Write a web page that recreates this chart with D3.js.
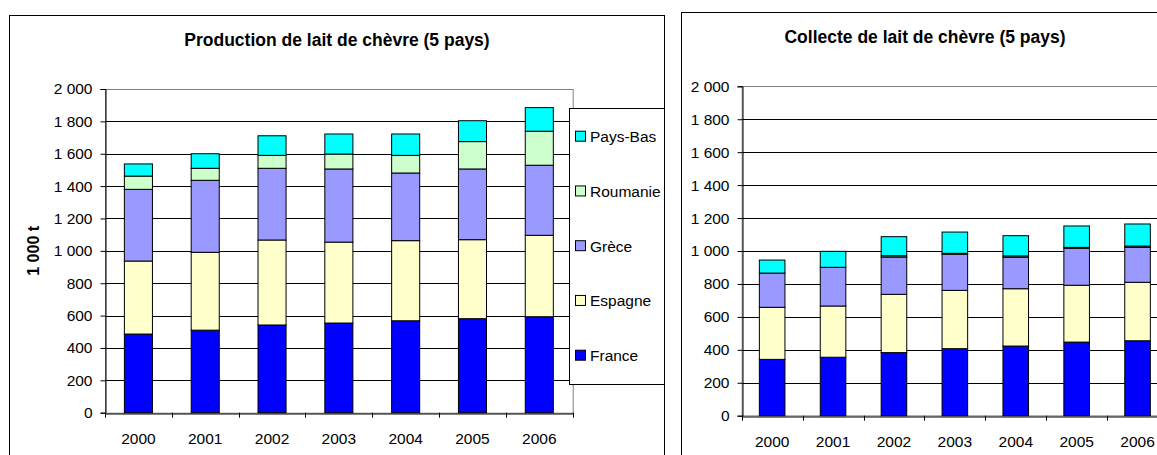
<!DOCTYPE html>
<html>
<head>
<meta charset="utf-8">
<script src="https://cdn.jsdelivr.net/npm/d3@7"></script>
<style>
  body { margin: 0; background: #fff; }
  svg { display: block; font-family: "Liberation Sans", Arial, sans-serif; }
</style>
</head>
<body>
<div id="vis"></div>
<script>
// data (1 000 t)
const years = ["2000", "2001", "2002", "2003", "2004", "2005", "2006"];
const countries = ["France", "Espagne", "Grèce", "Roumanie", "Pays-Bas"];
const colors = ["#0000ff", "#ffffcc", "#9999ff", "#ccffcc", "#00ffff"];

// production
const prodFrance   = [486, 510, 542, 554, 568, 581, 593];
const prodEspagne  = [451, 481, 525, 500, 495, 488, 503];
const prodGrece    = [443, 445, 443, 452, 418, 437, 433];
const prodRoumanie = [82, 74, 80, 92, 109, 169, 210];
const prodPaysBas  = [75, 90, 121, 124, 132, 129, 146];

// collecte
const collFrance   = [342, 355, 383, 407, 423, 447, 455];
const collEspagne  = [316, 311, 354, 354, 348, 345, 355];
const collGrece    = [208, 235, 226, 219, 191, 224, 212];
const collRoumanie = [0, 0, 8, 6, 8, 6, 8];
const collPaysBas  = [79, 97, 116, 129, 123, 130, 134];

const yTicks = [0, 200, 400, 600, 800, 1000, 1200, 1400, 1600, 1800, 2000];

const fmt = d3.formatLocale({ decimal: ",", thousands: "\u00a0", grouping: [3], currency: ["", " €"] }).format(",d");

let svg = d3.select("#vis")
  .append("svg")
  .attr("width", 1157)
  .attr("height", 455);

function rows(series) {
  return years.map((yr, i) => {
    let r = { year: yr };
    countries.forEach((c, k) => r[c] = series[k][i]);
    return r;
  });
}

function drawChart(g, cfg) {
  // outer frame (runs off the picture at the bottom / right)
  g.append("rect")
    .attr("x", cfg.frame[0] + 0.5).attr("y", cfg.frame[1] + 0.5)
    .attr("width", cfg.frame[2]).attr("height", cfg.frame[3])
    .attr("fill", "#fff").attr("stroke", "#000").attr("stroke-width", 1);

  g.append("text")
    .attr("x", cfg.titleX).attr("y", cfg.titleY)
    .attr("text-anchor", "middle")
    .style("font-size", "17.5px").style("font-weight", "bold")
    .text(cfg.title);

  let x = d3.scaleBand().domain(years)
    .range([cfg.left, cfg.right])
    .paddingInner(0.58).paddingOuter(0.29);
  let y = d3.scaleLinear().domain([0, 2000]).range([cfg.bottom, cfg.top]);

  // gridlines
  g.append("g")
    .selectAll("line")
    .data(yTicks.filter(d => d > 0 && d < 2000))
    .join("line")
    .attr("x1", cfg.left).attr("x2", cfg.right)
    .attr("y1", d => Math.round(y(d)) + 0.5).attr("y2", d => Math.round(y(d)) + 0.5)
    .attr("stroke", "#000");

  // plot area border
  g.append("rect")
    .attr("x", cfg.left + 0.5).attr("y", Math.round(cfg.top) + 0.5)
    .attr("width", cfg.right - cfg.left).attr("height", cfg.bottom - cfg.top)
    .attr("fill", "none").attr("stroke", "#808080");

  // stacked bars
  let stack = d3.stack().keys(countries)(rows(cfg.series));
  g.append("g")
    .selectAll("g")
    .data(stack)
    .join("g")
    .attr("fill", (d, i) => colors[i])
    .selectAll("rect")
    .data(d => d)
    .join("rect")
    .attr("x", d => x(d.data.year))
    .attr("width", x.bandwidth())
    .attr("y", d => y(d[1]))
    .attr("height", d => y(d[0]) - y(d[1]))
    .attr("stroke", "#000").attr("stroke-width", 1);

  // y axis
  let ya = g.append("g")
    .attr("transform", `translate(${Math.round(cfg.left) + 0.5},0)`)
    .call(d3.axisLeft(y).tickValues(yTicks).tickSize(5).tickPadding(8).tickFormat(fmt));
  ya.select(".domain").attr("stroke", "#000");
  ya.selectAll("text").style("font-size", "15.5px").attr("fill", "#000");

  // x axis: labels centred on bars, tick marks between categories
  let xa = g.append("g")
    .attr("transform", `translate(0,${Math.round(cfg.bottom) + 0.5})`)
    .call(d3.axisBottom(x).tickSize(0).tickPadding(19));
  xa.select(".domain").attr("stroke", "#000");
  xa.selectAll("text").style("font-size", "15.5px").attr("fill", "#000");
  let step = x.step();
  g.append("g")
    .selectAll("line")
    .data(d3.range(years.length + 1))
    .join("line")
    .attr("x1", i => Math.round(cfg.left + i * step) + 0.5)
    .attr("x2", i => Math.round(cfg.left + i * step) + 0.5)
    .attr("y1", cfg.bottom).attr("y2", cfg.bottom + 5)
    .attr("stroke", "#000");

  if (cfg.yLabel) {
    g.append("text")
      .attr("transform", `translate(${cfg.yLabelX},${(cfg.top + cfg.bottom) / 2}) rotate(-90)`)
      .attr("text-anchor", "middle")
      .attr("dy", "0.35em")
      .style("font-size", "16px").style("font-weight", "bold")
      .text(cfg.yLabel);
  }
}

drawChart(svg.append("g"), {
  frame: [9, 15, 655, 460],
  title: "Production de lait de chèvre (5 pays)",
  titleX: 337, titleY: 46,
  left: 105, right: 572.7, top: 89, bottom: 412.7,
  series: [prodFrance, prodEspagne, prodGrece, prodRoumanie, prodPaysBas],
  yLabel: "1 000 t", yLabelX: 33
});

drawChart(svg.append("g"), {
  frame: [681, 12, 500, 460],
  title: "Collecte de lait de chèvre (5 pays)",
  titleX: 925, titleY: 43,
  left: 741.7, right: 1168, top: 86.3, bottom: 415.7,
  series: [collFrance, collEspagne, collGrece, collRoumanie, collPaysBas]
});

// legend of the left chart
let legend = svg.append("g");
legend.append("rect")
  .attr("x", 569.5).attr("y", 108.5)
  .attr("width", 95).attr("height", 276)
  .attr("fill", "#fff").attr("stroke", "#000");
let legendOrder = countries.slice().reverse();
let ly = d3.scalePoint().domain(legendOrder).range([136.7, 355.7]);
let item = legend.selectAll("g.item")
  .data(legendOrder)
  .join("g")
  .attr("class", "item")
  .attr("transform", d => `translate(0,${ly(d)})`);
item.append("rect")
  .attr("x", 575.5).attr("y", -5.5)
  .attr("width", 10).attr("height", 10)
  .attr("fill", d => colors[countries.indexOf(d)])
  .attr("stroke", "#000");
item.append("text")
  .attr("x", 590).attr("dy", "0.35em")
  .style("font-size", "15.5px")
  .text(d => d);
</script>
</body>
</html>
